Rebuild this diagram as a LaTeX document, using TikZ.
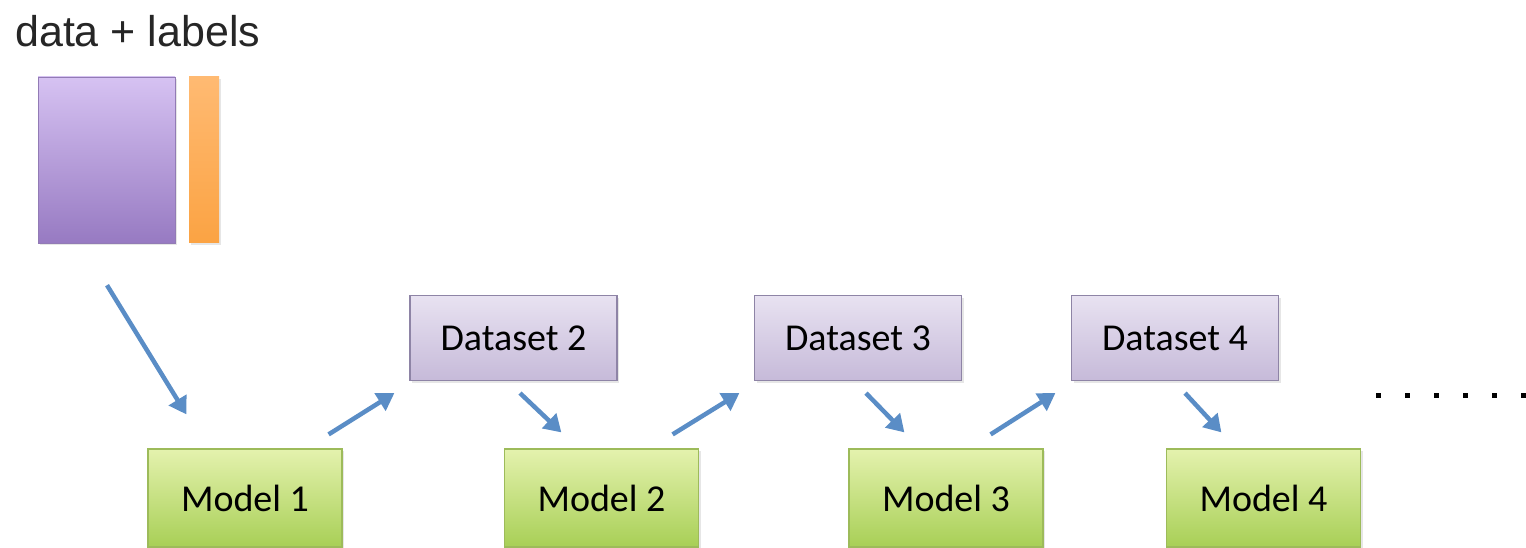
\documentclass[tikz,border=0pt]{standalone}
\usepackage{fontspec}
\setmainfont{Carlito}
\newfontfamily\titlefont{Liberation Sans}
\usepackage{tikz}
\usetikzlibrary{arrows.meta,calc,positioning,shadows}
\definecolor{flowblue}{HTML}{5A8DC6}
\definecolor{dsedge}{HTML}{8E84A6}
\definecolor{dstop}{HTML}{E8E2F1}
\definecolor{dsbot}{HTML}{C6BAD9}
\definecolor{mdedge}{HTML}{9DBB5A}
\definecolor{mdtop}{HTML}{E4F2AE}
\definecolor{mdbot}{HTML}{A8CF56}
\definecolor{datatop}{HTML}{D6C2F2}
\definecolor{databot}{HTML}{977AC2}
\definecolor{labtop}{HTML}{FFBA72}
\definecolor{labbot}{HTML}{FBA343}
\tikzset{
dataset/.style={draw=dsedge, line width=1.2pt, top color=dstop, bottom color=dsbot,
  minimum width=207pt, minimum height=85pt, font=\fontsize{38}{40}\selectfont,
  drop shadow={opacity=0.2, shadow xshift=2pt, shadow yshift=-2pt}}, % purple dataset boxes
model/.style={draw=mdedge, line width=1.2pt, top color=mdtop, bottom color=mdbot,
  minimum width=194pt, minimum height=98pt, font=\fontsize{38}{40}\selectfont,
  drop shadow={opacity=0.2, shadow xshift=2pt, shadow yshift=-2pt}}, % green model boxes
flow/.style={draw=flowblue, line width=4.5pt, -{Triangle[length=17pt,width=20pt]}} % blue arrows
}
\begin{document}
\begin{tikzpicture}[x=1pt,y=1pt]
    \useasboundingbox (0,0) rectangle (1526,547);
    \node[anchor=base west, inner sep=0pt, text=black!85, font=\titlefont\fontsize{43}{45}\selectfont] (title) at (15,500) {data + labels};
    \node[draw=databot!80!gray, top color=datatop, bottom color=databot, minimum width=137pt, minimum height=166pt, inner sep=0pt,
      drop shadow={opacity=0.2, shadow xshift=2pt, shadow yshift=-2pt}] (data) at (106.5,387) {};
    \node[top color=labtop, bottom color=labbot, minimum width=30pt, minimum height=166pt, inner sep=0pt,
      drop shadow={opacity=0.2, shadow xshift=2pt, shadow yshift=-2pt}] (lab) at (204,387) {};
    % datasets
    \node[dataset] (d2) at (513.5,209) {Dataset 2};
    \node[dataset] (d3) at (858,209) {Dataset 3};
    \node[dataset] (d4) at (1175,209) {Dataset 4};
    % models
    \node[model] (m1) at (245,49) {Model 1};
    \node[model] (m2) at (601.5,49) {Model 2};
    \node[model] (m3) at (946,49) {Model 3};
    \node[model] (m4) at (1263.5,49) {Model 4};
    % arrows
    \draw[flow] ($(data.south)+(0.5,-42)$) -- ($(m1.north west)+(39,34)$);
    \draw[flow] ($(m1.north east)+(-14,14)$) -- ($(d2.south west)+(-15,-12)$);
    \draw[flow] ($(d2.south)+(6.5,-12)$) -- ($(m2.north west)+(57.5,16)$);
    \draw[flow] ($(m2.north east)+(-26.5,14)$) -- ($(d3.south west)+(-14.5,-12)$);
    \draw[flow] ($(d3.south)+(8,-12)$) -- ($(m3.north west)+(56,16)$);
    \draw[flow] ($(m3.north east)+(-53,14)$) -- ($(d4.south west)+(-15.5,-12)$);
    \draw[flow] ($(d4.south)+(10,-12)$) -- ($(m4.north west)+(55.5,16)$);
    % dots
    \foreach \i in {0,...,5}
        \fill ({1376+29*\i},149) rectangle ++(5,5);
\end{tikzpicture}
\end{document}
